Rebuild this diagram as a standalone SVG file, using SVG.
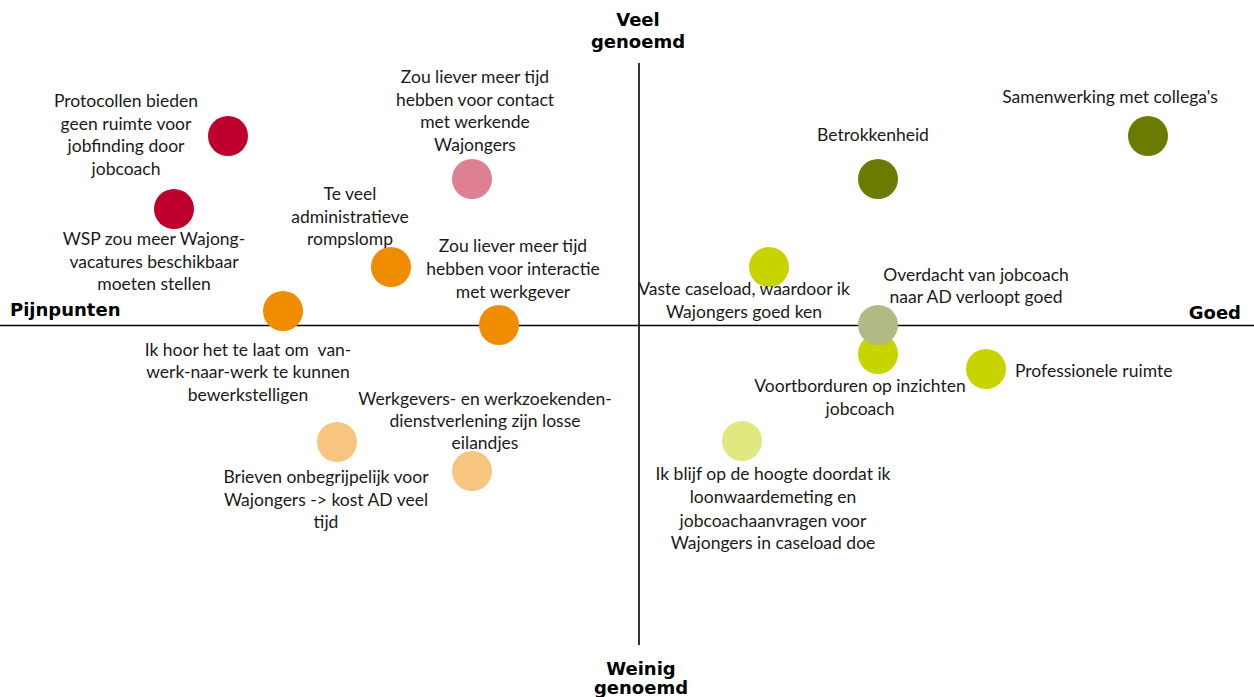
<svg xmlns="http://www.w3.org/2000/svg" width="1254" height="697" viewBox="0 0 1254 697">
  <style>
    .lbl { font-family: Lato, "Liberation Sans", sans-serif; font-size: 17.5px; fill: #1a1a1a; text-anchor: middle; }
    .lbl.start { text-anchor: start; }
    .ax { font-family: "DejaVu Sans", Verdana, sans-serif; font-weight: bold; font-size: 18px; fill: #000; }
    .mid { text-anchor: middle; }
    .end { text-anchor: end; }
    .axis { stroke: #000; stroke-width: 1.6; }
    .red { fill: #C0002C; }
    .pink { fill: #DE7F93; }
    .orange { fill: #F08C00; }
    .lorange { fill: #F7C57F; }
    .lime { fill: #C8D400; }
    .pale { fill: #E0E87F; }
    .sage { fill: #B1BA84; }
    .olive { fill: #6B7A00; }
  </style>

  <!-- axes -->
  <g id="axes">
    <line class="axis" x1="0" y1="325.5" x2="1254" y2="325.5"/>
    <line class="axis" x1="639" y1="63" x2="639" y2="645"/>
  </g>

  <!-- axis titles -->
  <g id="axis-labels">
    <text class="ax mid" x="638" y="26">Veel</text>
    <text class="ax mid" x="638" y="48">genoemd</text>
    <text class="ax mid" x="641" y="675">Weinig</text>
    <text class="ax mid" x="641" y="694">genoemd</text>
    <text class="ax" x="10" y="316">Pijnpunten</text>
    <text class="ax end" x="1241" y="319">Goed</text>
  </g>

  <!-- pain points -->
  <g id="protocollen">
    <circle class="red" cx="228" cy="136" r="20"/>
    <text class="lbl"><tspan x="126" y="107">Protocollen bieden</tspan><tspan x="126" y="129.5">geen ruimte voor</tspan><tspan x="126" y="152">jobfinding door</tspan><tspan x="126" y="174.5">jobcoach</tspan></text>
  </g>
  <g id="wsp">
    <circle class="red" cx="174" cy="209" r="20"/>
    <text class="lbl"><tspan x="154" y="245">WSP zou meer Wajong-</tspan><tspan x="154" y="267.5">vacatures beschikbaar</tspan><tspan x="154" y="290">moeten stellen</tspan></text>
  </g>
  <g id="contact-wajongers">
    <circle class="pink" cx="472" cy="179" r="20"/>
    <text class="lbl"><tspan x="475" y="83">Zou liever meer tijd</tspan><tspan x="475" y="105.5">hebben voor contact</tspan><tspan x="475" y="128">met werkende</tspan><tspan x="475" y="150.5">Wajongers</tspan></text>
  </g>
  <g id="administratie">
    <circle class="orange" cx="391" cy="267" r="20"/>
    <text class="lbl"><tspan x="350" y="200">Te veel</tspan><tspan x="350" y="222.5">administratieve</tspan><tspan x="350" y="245">rompslomp</tspan></text>
  </g>
  <g id="interactie-werkgever">
    <circle class="orange" cx="499" cy="325" r="20"/>
    <text class="lbl"><tspan x="513" y="252">Zou liever meer tijd</tspan><tspan x="513" y="275">hebben voor interactie</tspan><tspan x="513" y="298">met werkgever</tspan></text>
  </g>
  <g id="werk-naar-werk">
    <circle class="orange" cx="283" cy="311" r="20"/>
    <text class="lbl" xml:space="preserve"><tspan x="248" y="356">Ik hoor het te laat om  van-</tspan><tspan x="248" y="378">werk-naar-werk te kunnen</tspan><tspan x="248" y="400.5">bewerkstelligen</tspan></text>
  </g>
  <g id="losse-eilandjes">
    <circle class="lorange" cx="472" cy="471" r="20"/>
    <text class="lbl"><tspan x="485" y="405">Werkgevers- en werkzoekenden-</tspan><tspan x="485" y="427">dienstverlening zijn losse</tspan><tspan x="485" y="449">eilandjes</tspan></text>
  </g>
  <g id="brieven">
    <circle class="lorange" cx="337" cy="442" r="20"/>
    <text class="lbl"><tspan x="326" y="483">Brieven onbegrijpelijk voor</tspan><tspan x="326" y="505.5">Wajongers -&gt; kost AD veel</tspan><tspan x="326" y="528">tijd</tspan></text>
  </g>

  <!-- positives -->
  <g id="samenwerking">
    <circle class="olive" cx="1148" cy="136" r="20"/>
    <text class="lbl" x="1110" y="103">Samenwerking met collega's</text>
  </g>
  <g id="betrokkenheid">
    <circle class="olive" cx="878" cy="179" r="20"/>
    <text class="lbl" x="873" y="141">Betrokkenheid</text>
  </g>
  <g id="vaste-caseload">
    <circle class="lime" cx="769" cy="267" r="20"/>
    <text class="lbl"><tspan x="744" y="295">Vaste caseload, waardoor ik</tspan><tspan x="744" y="318">Wajongers goed ken</tspan></text>
  </g>
  <g id="voortborduren">
    <circle class="lime" cx="878" cy="354" r="20"/>
    <text class="lbl"><tspan x="860" y="392">Voortborduren op inzichten</tspan><tspan x="860" y="415">jobcoach</tspan></text>
  </g>
  <g id="overdracht">
    <circle class="sage" cx="878" cy="325" r="20"/>
    <text class="lbl"><tspan x="976" y="281">Overdacht van jobcoach</tspan><tspan x="976" y="303">naar AD verloopt goed</tspan></text>
  </g>
  <g id="professionele-ruimte">
    <circle class="lime" cx="986" cy="369" r="20"/>
    <text class="lbl start" x="1015" y="377">Professionele ruimte</text>
  </g>
  <g id="op-de-hoogte">
    <circle class="pale" cx="742" cy="441" r="20"/>
    <text class="lbl"><tspan x="773" y="480">Ik blijf op de hoogte doordat ik</tspan><tspan x="773" y="503">loonwaardemeting en</tspan><tspan x="773" y="527">jobcoachaanvragen voor</tspan><tspan x="773" y="549">Wajongers in caseload doe</tspan></text>
  </g>
</svg>
